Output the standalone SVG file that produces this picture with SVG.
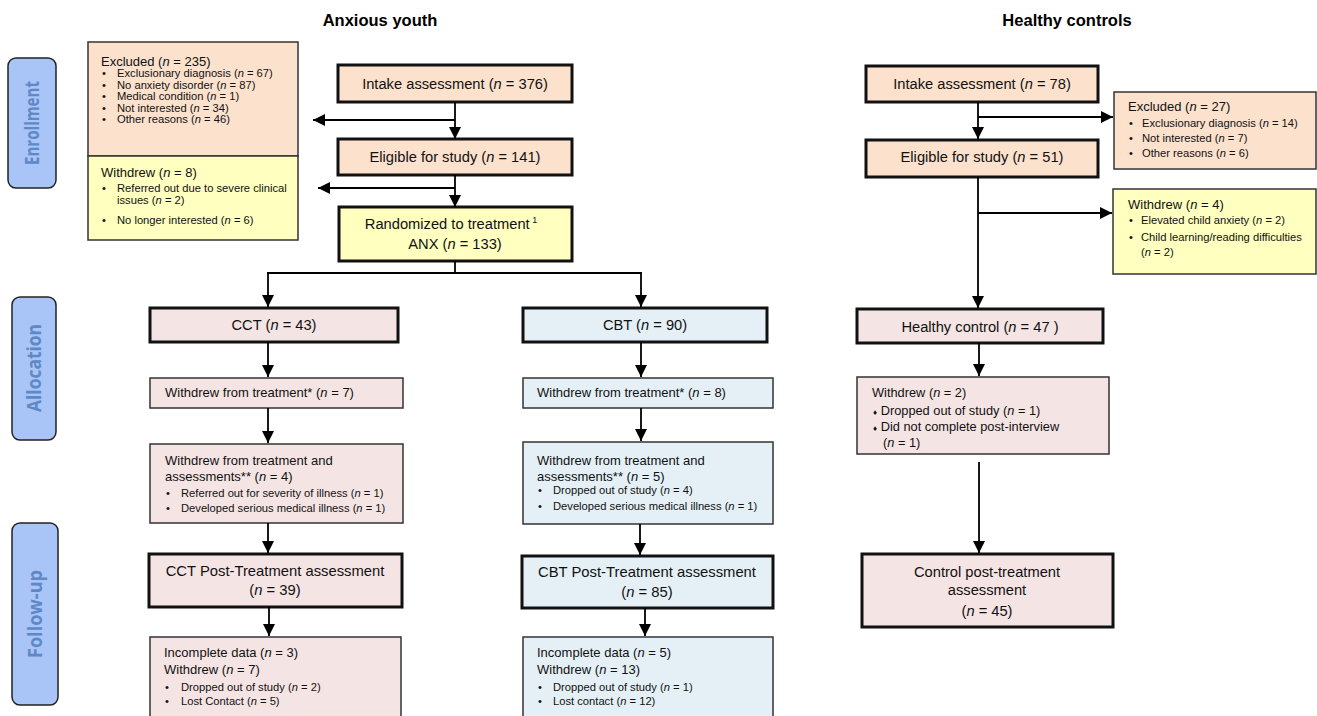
<svg xmlns="http://www.w3.org/2000/svg" width="1317" height="716" viewBox="0 0 1317 716">
<style>
text{font-family:"Liberation Sans",Arial,sans-serif;fill:#111}
.t14{font-size:14.7px;text-anchor:middle}
.t15{font-size:14.8px;text-anchor:middle}
.t12{font-size:13px}
.t11{font-size:12.8px}
.t10{font-size:11.2px}
.i{font-style:italic}
.title{font-size:16.5px;font-weight:bold;text-anchor:middle;fill:#000}
.lab rect{fill:#A9C4F6;stroke:#222;stroke-width:1.5}
.lab text{font-family:"Open Sans","Noto Sans",sans-serif;font-weight:bold;font-size:19px;fill:#5F88C6;text-anchor:middle}
.peach{fill:#FCE1CD}
.yel{fill:#FFFFC0}
.pink{fill:#F5E4E4}
.blue{fill:#E4F0F6}
.thick{stroke:#111;stroke-width:3}
.thin{stroke:#333;stroke-width:1.5}
.conn line,.conn polyline{stroke:#000;stroke-width:1.8;fill:none}
</style>
<defs>
<marker id="ah" markerUnits="userSpaceOnUse" markerWidth="14" markerHeight="14" viewBox="0 0 14 14" refX="12" refY="7" orient="auto">
<path d="M0,1 L12,7 L0,13 Z" fill="#000"/>
</marker>
</defs>
<rect width="1317" height="716" fill="#fff"/>

<text class="title" x="380" y="26">Anxious youth</text>
<text class="title" x="1067" y="26">Healthy controls</text>

<g id="lab-enroll" class="lab"><rect x="8" y="58" width="48" height="130" rx="8"/><text transform="translate(39,123) rotate(-90)" textLength="84" lengthAdjust="spacingAndGlyphs">Enrollment</text></g>
<g id="lab-alloc" class="lab"><rect x="12" y="297" width="44" height="143" rx="8"/><text transform="translate(41,368) rotate(-90)" textLength="88" lengthAdjust="spacingAndGlyphs">Allocation</text></g>
<g id="lab-follow" class="lab"><rect x="12" y="523" width="46" height="182" rx="8"/><text transform="translate(42,614) rotate(-90)" textLength="88" lengthAdjust="spacingAndGlyphs">Follow-up</text></g>

<g id="excluded-anx">
<rect x="88" y="42" width="210" height="114" class="peach thin"/>
<text class="t12" x="101" y="66">Excluded (<tspan class="i">n</tspan> = 235)</text>
<g class="t10">
<text x="102" y="77">•</text><text x="117" y="77">Exclusionary diagnosis  (<tspan class="i">n</tspan> = 67)</text>
<text x="102" y="88.5">•</text><text x="117" y="88.5">No anxiety disorder (<tspan class="i">n</tspan> = 87)</text>
<text x="102" y="100">•</text><text x="117" y="100">Medical condition (<tspan class="i">n</tspan> = 1)</text>
<text x="102" y="111.5">•</text><text x="117" y="111.5">Not interested (<tspan class="i">n</tspan> = 34)</text>
<text x="102" y="123">•</text><text x="117" y="123">Other reasons (<tspan class="i">n</tspan> = 46)</text>
</g>
</g>
<g id="withdrew-anx">
<rect x="88" y="156" width="210" height="84" class="yel thin"/>
<text class="t12" x="101" y="177">Withdrew (<tspan class="i">n</tspan> = 8)</text>
<g class="t10">
<text x="102" y="192">•</text><text x="117" y="192">Referred out due to severe clinical</text>
<text x="117" y="204">issues  (<tspan class="i">n</tspan> = 2)</text>
<text x="102" y="224">•</text><text x="117" y="224">No longer interested (<tspan class="i">n</tspan> = 6)</text>
</g>
</g>

<g id="intake-anx"><rect x="338" y="65" width="234" height="37" class="peach thick"/><text class="t14" x="455" y="89">Intake assessment (<tspan class="i">n</tspan> = 376)</text></g>
<g id="eligible-anx"><rect x="338" y="139" width="234" height="36" class="peach thick"/><text class="t14" x="455" y="162">Eligible for study (<tspan class="i">n</tspan> = 141)</text></g>
<g id="random-anx"><rect x="339" y="207" width="233" height="54" class="yel thick"/><text class="t14" x="451" y="229">Randomized to treatment<tspan font-size="9" dy="-6"> 1</tspan></text><text class="t14" x="455" y="249">ANX (<tspan class="i">n</tspan> = 133)</text></g>

<g id="cct"><rect x="150" y="308" width="248" height="34" class="pink thick"/><text class="t14" x="274" y="330">CCT (<tspan class="i">n</tspan> = 43)</text></g>
<g id="cct-wd1"><rect x="150" y="378" width="253" height="30" class="pink thin"/><text class="t12" x="165" y="397">Withdrew from treatment* (<tspan class="i">n</tspan> = 7)</text></g>
<g id="cct-wd2"><rect x="150" y="444" width="253" height="79" class="pink thin"/>
<text class="t12" x="165" y="465">Withdrew from treatment and</text>
<text class="t12" x="165" y="481">assessments** (<tspan class="i">n</tspan> = 4)</text>
<g class="t10"><text x="166" y="496.5">•</text><text x="181" y="496.5">Referred out for severity of illness (<tspan class="i">n</tspan> = 1)</text>
<text x="166" y="511.5">•</text><text x="181" y="511.5">Developed serious medical illness (<tspan class="i">n</tspan> = 1)</text></g></g>
<g id="cct-post"><rect x="149" y="554" width="253" height="53" class="pink thick"/><text class="t15" x="275" y="576">CCT Post-Treatment assessment</text><text class="t15" x="275" y="595">(<tspan class="i">n</tspan> = 39)</text></g>
<g id="cct-end"><rect x="150" y="637" width="251" height="90" class="pink thin"/>
<text class="t12" x="164" y="657">Incomplete data (<tspan class="i">n</tspan> = 3)</text>
<text class="t12" x="164" y="674">Withdrew (<tspan class="i">n</tspan> = 7)</text>
<g class="t10"><text x="165" y="690.5">•</text><text x="181" y="690.5">Dropped out of study (<tspan class="i">n</tspan> = 2)</text>
<text x="165" y="704.5">•</text><text x="181" y="704.5">Lost Contact (<tspan class="i">n</tspan> = 5)</text></g></g>

<g id="cbt"><rect x="523" y="308" width="244" height="34" class="blue thick"/><text class="t14" x="645" y="330">CBT (<tspan class="i">n</tspan> = 90)</text></g>
<g id="cbt-wd1"><rect x="523" y="378" width="250" height="30" class="blue thin"/><text class="t12" x="537" y="397">Withdrew from treatment* (<tspan class="i">n</tspan> = 8)</text></g>
<g id="cbt-wd2"><rect x="523" y="442" width="250" height="82" class="blue thin"/>
<text class="t12" x="537" y="465">Withdrew from treatment and</text>
<text class="t12" x="537" y="481">assessments** (<tspan class="i">n</tspan> = 5)</text>
<g class="t10"><text x="538" y="493.5">•</text><text x="553" y="493.5">Dropped out of study (<tspan class="i">n</tspan> = 4)</text>
<text x="538" y="509.5">•</text><text x="553" y="509.5">Developed serious medical illness (<tspan class="i">n</tspan> = 1)</text></g></g>
<g id="cbt-post"><rect x="522" y="556" width="251" height="52" class="blue thick"/><text class="t15" x="647" y="577">CBT Post-Treatment assessment</text><text class="t15" x="647" y="597">(<tspan class="i">n</tspan> = 85)</text></g>
<g id="cbt-end"><rect x="523" y="637" width="250" height="90" class="blue thin"/>
<text class="t12" x="537" y="657">Incomplete data (<tspan class="i">n</tspan> = 5)</text>
<text class="t12" x="537" y="674">Withdrew (<tspan class="i">n</tspan> = 13)</text>
<g class="t10"><text x="538" y="690.5">•</text><text x="553" y="690.5">Dropped out of study (<tspan class="i">n</tspan> = 1)</text>
<text x="538" y="704.5">•</text><text x="553" y="704.5">Lost contact (<tspan class="i">n</tspan> = 12)</text></g></g>

<g id="intake-hc"><rect x="866" y="66" width="232" height="36" class="peach thick"/><text class="t14" x="982" y="89">Intake assessment (<tspan class="i">n</tspan> = 78)</text></g>
<g id="eligible-hc"><rect x="866" y="140" width="232" height="37" class="peach thick"/><text class="t14" x="982" y="162">Eligible for study (<tspan class="i">n</tspan> = 51)</text></g>
<g id="excluded-hc"><rect x="1114" y="92" width="202" height="77" class="peach thin"/>
<text class="t12" x="1128" y="111">Excluded (<tspan class="i">n</tspan> = 27)</text>
<g class="t10"><text x="1129" y="126.5">•</text><text x="1142" y="126.5">Exclusionary diagnosis (<tspan class="i">n</tspan> = 14)</text>
<text x="1129" y="141.5">•</text><text x="1142" y="141.5">Not interested (<tspan class="i">n</tspan> = 7)</text>
<text x="1129" y="156.5">•</text><text x="1142" y="156.5">Other reasons (<tspan class="i">n</tspan> = 6)</text></g></g>
<g id="withdrew-hc"><rect x="1113" y="189" width="203" height="85" class="yel thin"/>
<text class="t12" x="1128" y="209">Withdrew (<tspan class="i">n</tspan> = 4)</text>
<g class="t10"><text x="1129" y="223.5">•</text><text x="1141" y="223.5">Elevated child anxiety (<tspan class="i">n</tspan> = 2)</text>
<text x="1129" y="240.5">•</text><text x="1141" y="240.5">Child learning/reading difficulties</text>
<text x="1141" y="255.5">(<tspan class="i">n</tspan> = 2)</text></g></g>
<g id="hc"><rect x="857" y="309" width="246" height="34" class="pink thick"/><text class="t14" x="980" y="332">Healthy control (<tspan class="i">n</tspan> = 47 )</text></g>
<g id="hc-wd"><rect x="857" y="377" width="252" height="77" class="pink thin"/>
<text class="t11" x="872" y="397">Withdrew (<tspan class="i">n</tspan> = 2)</text>
<text class="t11" x="873" y="415"><tspan font-size="8">♦</tspan> Dropped out of study (<tspan class="i">n</tspan> = 1)</text>
<text class="t11" x="873" y="431"><tspan font-size="8">♦</tspan> Did not complete post-interview</text>
<text class="t11" x="883" y="447">(<tspan class="i">n</tspan> = 1)</text></g>
<g id="hc-post"><rect x="862" y="554" width="251" height="73" class="pink thick"/><text class="t14" x="987" y="577">Control post-treatment</text><text class="t14" x="987" y="595">assessment</text><text class="t14" x="987" y="616">(<tspan class="i">n</tspan> = 45)</text></g>

<g id="connectors" class="conn">
<line x1="455" y1="102" x2="455" y2="139" marker-end="url(#ah)"/>
<line x1="455" y1="120" x2="313" y2="120" marker-end="url(#ah)"/>
<line x1="455" y1="175" x2="455" y2="207" marker-end="url(#ah)"/>
<line x1="455" y1="188" x2="318" y2="188" marker-end="url(#ah)"/>
<polyline points="455,261 455,273"/>
<line x1="267" y1="273" x2="642" y2="273"/>
<line x1="268" y1="273" x2="268" y2="307" marker-end="url(#ah)"/>
<line x1="641" y1="273" x2="641" y2="307" marker-end="url(#ah)"/>
<line x1="268" y1="342" x2="268" y2="377" marker-end="url(#ah)"/>
<line x1="268" y1="408" x2="268" y2="443" marker-end="url(#ah)"/>
<line x1="268" y1="523" x2="268" y2="553" marker-end="url(#ah)"/>
<line x1="269" y1="607" x2="269" y2="636" marker-end="url(#ah)"/>
<line x1="641" y1="342" x2="641" y2="377" marker-end="url(#ah)"/>
<line x1="641" y1="408" x2="641" y2="441" marker-end="url(#ah)"/>
<line x1="640" y1="524" x2="640" y2="555" marker-end="url(#ah)"/>
<line x1="645" y1="608" x2="645" y2="636" marker-end="url(#ah)"/>
<line x1="978" y1="102" x2="978" y2="139" marker-end="url(#ah)"/>
<line x1="978" y1="117" x2="1113" y2="117" marker-end="url(#ah)"/>
<line x1="978" y1="177" x2="978" y2="308" marker-end="url(#ah)"/>
<line x1="978" y1="213" x2="1112" y2="213" marker-end="url(#ah)"/>
<line x1="979" y1="343" x2="979" y2="376" marker-end="url(#ah)"/>
<line x1="979" y1="462" x2="979" y2="553" marker-end="url(#ah)"/>
</g>
</svg>
